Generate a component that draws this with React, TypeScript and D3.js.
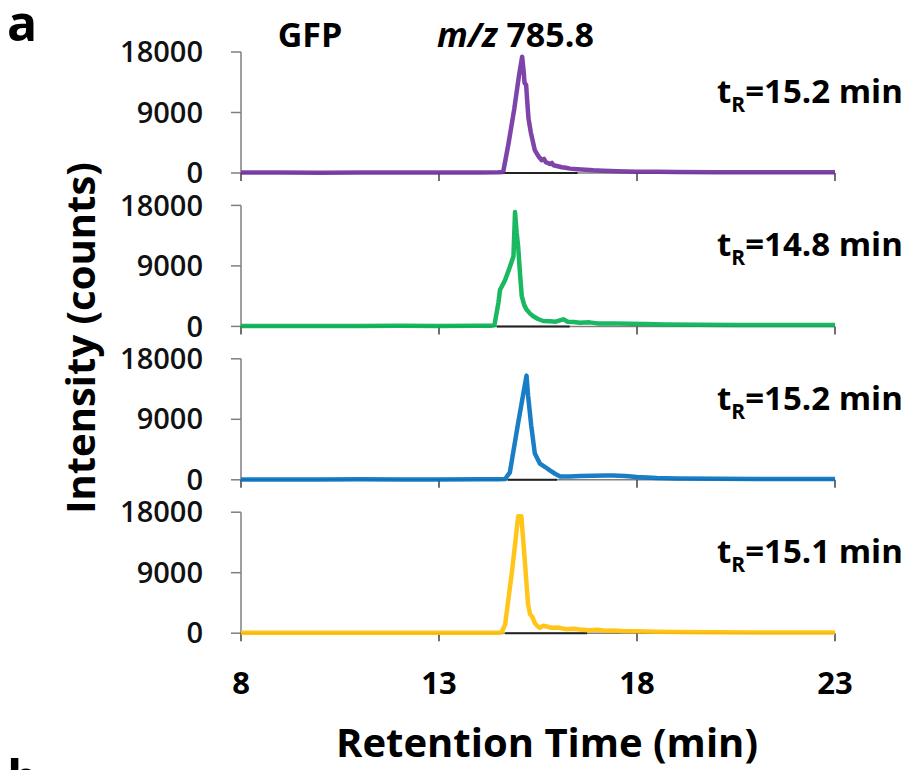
import React from "react";
import * as d3 from "d3";

// retention time (min), intensity (counts)
const tracePurple: [number, number][] = [
  [8, 60], [9, 70], [10, 50], [11, 80], [12, 60], [13, 70], [14, 90], [14.5, 110],
  [14.62, 150], [14.75, 4200], [14.9, 9500], [15.02, 14500], [15.1, 17300], [15.14, 15000],
  [15.16, 13400], [15.2, 13100], [15.23, 10500], [15.26, 8100], [15.32, 6000], [15.42, 3400],
  [15.5, 2600], [15.59, 1900], [15.65, 2100], [15.7, 1600], [15.8, 1350], [15.85, 1500],
  [15.89, 1150], [16.0, 1000], [16.1, 850], [16.2, 780], [16.31, 650], [16.5, 560],
  [16.7, 480], [16.9, 400], [17.14, 340], [17.5, 260], [18, 200], [18.5, 170], [19, 150],
  [20, 120], [21, 110], [22, 100], [23, 100],
];
const traceGreen: [number, number][] = [
  [8, 60], [9, 50], [10, 70], [11, 60], [12, 80], [13, 60], [14, 80], [14.3, 100],
  [14.4, 200], [14.5, 3500], [14.54, 5400], [14.67, 6900], [14.78, 8700], [14.88, 10400],
  [14.92, 17000], [14.96, 14000], [15.0, 11800], [15.05, 7500], [15.09, 4500], [15.15, 3200],
  [15.21, 2500], [15.3, 1900], [15.38, 1500], [15.5, 1100], [15.63, 800], [15.8, 750],
  [15.95, 700], [16.05, 900], [16.14, 1050], [16.25, 700], [16.4, 650], [16.56, 550],
  [16.8, 600], [17.0, 450], [17.4, 450], [17.8, 380], [18.2, 350], [18.7, 300],
  [19.5, 250], [20.5, 220], [21.5, 200], [23, 200],
];
const traceBlue: [number, number][] = [
  [8, 60], [9, 50], [10, 60], [11, 70], [12, 50], [13, 60], [14, 70], [14.5, 80],
  [14.67, 120], [14.79, 1100], [15.0, 8500], [15.21, 15500], [15.25, 12500], [15.33, 8000],
  [15.42, 3900], [15.55, 2400], [15.68, 1900], [15.8, 1400], [15.93, 900], [16.06, 500],
  [16.3, 500], [16.56, 550], [16.9, 600], [17.2, 650], [17.4, 640], [17.7, 550], [18, 400],
  [18.5, 250], [19, 180], [20, 150], [21, 130], [22, 120], [23, 110],
];
const traceYellow: [number, number][] = [
  [8, 60], [9, 50], [10, 70], [11, 60], [12, 50], [13, 70], [14, 60], [14.5, 80],
  [14.58, 100], [14.67, 1300], [14.85, 9500], [15.0, 17400], [15.08, 17400], [15.17, 10500],
  [15.25, 4300], [15.3, 2800], [15.36, 2400], [15.42, 1500], [15.48, 1100], [15.55, 800],
  [15.63, 1100], [15.72, 1000], [15.85, 800], [16.0, 850], [16.2, 600], [16.4, 650],
  [16.56, 550], [16.8, 450], [17.0, 500], [17.2, 350], [17.4, 400], [17.7, 300], [18, 280],
  [18.5, 220], [19, 180], [20, 150], [21, 120], [23, 100],
];

const traces = [tracePurple, traceGreen, traceBlue, traceYellow];
const traceColors = ["#7030A0", "#00B050", "#0070C0", "#FFC000"];
const retentionLabels = ["15.2", "14.8", "15.2", "15.1"];
const baselineStart = [14.62, 14.46, 14.74, 14.67];
const baselineEnd = [16.5, 16.3, 15.98, 16.74];

const xTicks = [8, 13, 18, 23];
const yTicks = [0, 9000, 18000];

const W = 922;
const H = 770;
const FONT = "'Open Sans', sans-serif";
const panelTop = 52;
const panelStep = 153.4;
const panelHeight = 121;

const App = () => {
  const x = d3.scaleLinear().domain([8, 23]).range([241, 835]);
  const axisColor = "#7f7f7f";

  return (
    <svg
      width={W}
      height={H}
      viewBox={`0 0 ${W} ${H}`}
      style={{ position: "absolute", left: 0, top: 0, background: "#fff" }}
      fontFamily={FONT}
    >
      <rect width={W} height={H} fill="#fff" />

      {traces.map((trace, i) => {
        const top = panelTop + i * panelStep;
        const y = d3.scaleLinear().domain([0, 18000]).range([top + panelHeight, top]);
        const line = d3
          .line<[number, number]>()
          .x((d) => x(d[0]))
          .y((d) => y(d[1]));
        const y0 = y(0);
        return (
          <g key={i}>
            {/* axes */}
            <line x1={x(8)} x2={x(8)} y1={y(18000)} y2={y0} stroke={axisColor} strokeWidth={1.5} />
            <line x1={x(8)} x2={x(23)} y1={y0} y2={y0} stroke={axisColor} strokeWidth={1.5} />
            {yTicks.map((t) => (
              <g key={t}>
                <line x1={x(8) - 10} x2={x(8)} y1={y(t)} y2={y(t)} stroke={axisColor} strokeWidth={1.5} />
                <text
                  x={203}
                  y={y(t)}
                  dy="0.35em"
                  textAnchor="end"
                  fontSize={29}
                  fontWeight={600}
                  fill="#111"
                >
                  {t}
                </text>
              </g>
            ))}
            {xTicks.map((t) => (
              <line key={t} x1={x(t)} x2={x(t)} y1={y0} y2={y0 + 8} stroke="#404040" strokeWidth={1.5} />
            ))}
            {/* integration baseline */}
            <line
              x1={x(baselineStart[i])}
              x2={x(baselineEnd[i])}
              y1={y0}
              y2={y0}
              stroke="#222"
              strokeWidth={2}
            />
            <path
              d={line(trace) ?? ""}
              fill="none"
              stroke={traceColors[i]}
              strokeWidth={4.5}
              strokeLinejoin="round"
              strokeOpacity={0.9}
            />
            <text x={717} y={top + 51} fontSize={33} fontWeight={700} fill="#000">
              t
              <tspan fontSize={21} dy={9}>R</tspan>
              <tspan dy={-9}>={retentionLabels[i]} min</tspan>
            </text>
          </g>
        );
      })}

      {xTicks.map((t) => (
        <text key={t} x={x(t)} y={694} textAnchor="middle" fontSize={31} fontWeight={700} fill="#000">
          {t}
        </text>
      ))}

      <text x={7} y={41} fontSize={50} fontWeight={700} fill="#000">a</text>
      <text x={7} y={796} fontSize={50} fontWeight={700} fill="#000">b</text>

      <text x={310} y={47} textAnchor="middle" fontSize={34} fontWeight={700} fill="#000">GFP</text>
      <text x={437} y={47} fontSize={34} fontWeight={700} fill="#000">
        <tspan fontStyle="italic">m/z</tspan> 785.8
      </text>

      <text
        transform="translate(95,338) rotate(-90)"
        textAnchor="middle"
        fontSize={40}
        fontWeight={700}
        fill="#000"
      >
        Intensity (counts)
      </text>
      <text x={547} y={757} textAnchor="middle" fontSize={40} fontWeight={700} fill="#000">
        Retention Time (min)
      </text>
    </svg>
  );
};

export default App;
